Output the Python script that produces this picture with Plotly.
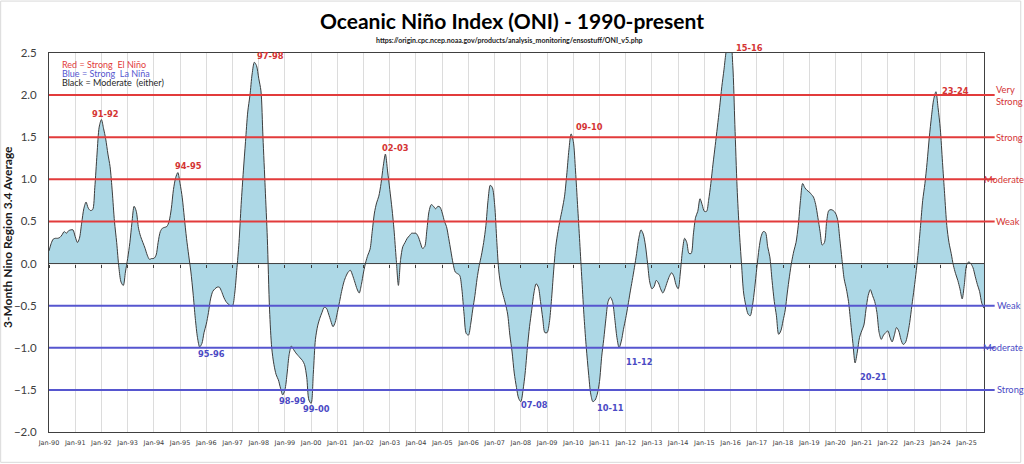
import pandas as pd
import plotly.graph_objects as go

# ONI, one value per month (3-month running mean)
oni_1990s = [
    0.15, 0.24, 0.29, 0.30, 0.30, 0.31, 0.34, 0.38, 0.36, 0.39, 0.40, 0.40,
    0.32, 0.25, 0.30, 0.48, 0.65, 0.73, 0.66, 0.63, 0.64, 0.90, 1.30, 1.62,
    1.71, 1.60, 1.48, 1.30, 1.15, 0.85, 0.50, 0.25, -0.05, -0.22, -0.26, -0.10,
    0.06, 0.25, 0.48, 0.68, 0.62, 0.42, 0.32, 0.25, 0.18, 0.10, 0.05, 0.06,
    0.06, 0.10, 0.25, 0.38, 0.42, 0.43, 0.44, 0.50, 0.65, 0.88, 1.02, 1.08,
    0.95, 0.78, 0.55, 0.30, 0.10, -0.10, -0.35, -0.65, -0.88, -0.99, -0.95, -0.82,
    -0.72, -0.58, -0.42, -0.33, -0.30, -0.28, -0.28, -0.33, -0.40, -0.45, -0.48, -0.50,
    -0.50, -0.35, -0.08, 0.25, 0.70, 1.10, 1.45, 1.80, 2.00, 2.25, 2.39, 2.35,
    2.20, 2.05, 1.50, 0.90, 0.30, -0.55, -1.00, -1.20, -1.32, -1.38, -1.48, -1.56,
    -1.50, -1.30, -1.08, -0.98, -1.02, -1.06, -1.09, -1.12, -1.15, -1.20, -1.35, -1.62,
]
oni_2000s = [
    -1.66, -1.30, -0.90, -0.74, -0.65, -0.58, -0.52, -0.53, -0.60, -0.68, -0.75, -0.70,
    -0.58, -0.45, -0.33, -0.22, -0.15, -0.10, -0.08, -0.14, -0.22, -0.30, -0.35, -0.25,
    -0.10, 0.02, 0.10, 0.17, 0.38, 0.60, 0.72, 0.80, 0.95, 1.15, 1.30, 1.10,
    0.88, 0.65, 0.40, 0.05, -0.26, 0.05, 0.20, 0.25, 0.30, 0.33, 0.36, 0.36,
    0.36, 0.32, 0.25, 0.18, 0.20, 0.40, 0.62, 0.70, 0.68, 0.65, 0.68, 0.67,
    0.60, 0.50, 0.44, 0.30, 0.15, 0.00, -0.10, -0.12, -0.14, -0.30, -0.60, -0.83,
    -0.85, -0.72, -0.55, -0.38, -0.18, -0.02, 0.10, 0.25, 0.45, 0.75, 0.93, 0.90,
    0.70, 0.25, -0.10, -0.28, -0.38, -0.48, -0.60, -0.85, -1.05, -1.30, -1.47, -1.60,
    -1.64, -1.50, -1.30, -1.00, -0.75, -0.55, -0.35, -0.24, -0.28, -0.45, -0.65, -0.82,
    -0.82, -0.70, -0.45, -0.10, 0.20, 0.38, 0.52, 0.65, 0.80, 1.05, 1.35, 1.54,
]
oni_2010s = [
    1.45, 1.10, 0.70, 0.25, -0.20, -0.65, -1.00, -1.30, -1.55, -1.64, -1.62, -1.55,
    -1.40, -1.10, -0.90, -0.65, -0.45, -0.40, -0.45, -0.65, -0.88, -1.00, -0.92, -0.78,
    -0.65, -0.50, -0.35, -0.20, -0.05, 0.12, 0.30, 0.40, 0.35, 0.22, 0.00, -0.22,
    -0.30, -0.27, -0.20, -0.23, -0.30, -0.35, -0.30, -0.22, -0.15, -0.11, -0.15, -0.25,
    -0.30, -0.10, 0.15, 0.30, 0.25, 0.12, 0.12, 0.35, 0.55, 0.62, 0.77, 0.70,
    0.62, 0.62, 0.75, 0.95, 1.18, 1.40, 1.62, 1.85, 2.10, 2.30, 2.52, 2.62,
    2.62, 2.35, 1.65, 0.90, 0.40, 0.00, -0.35, -0.50, -0.60, -0.62, -0.50, -0.30,
    -0.05, 0.18, 0.32, 0.38, 0.37, 0.20, 0.08, -0.20, -0.45, -0.62, -0.84, -0.80,
    -0.68, -0.55, -0.35, -0.15, 0.02, 0.15, 0.25, 0.45, 0.75, 0.95, 0.90, 0.87,
    0.85, 0.82, 0.79, 0.70, 0.55, 0.38, 0.22, 0.25, 0.50, 0.63, 0.64, 0.63,
]
oni_2020s = [
    0.60, 0.52, 0.30, 0.05, -0.18, -0.30, -0.45, -0.70, -0.95, -1.18, -1.05, -0.88,
    -0.80, -0.73, -0.55, -0.38, -0.31, -0.38, -0.45, -0.58, -0.82, -0.90, -0.85, -0.82,
    -0.80, -0.88, -0.93, -0.85, -0.76, -0.80, -0.90, -0.96, -0.94, -0.85, -0.70, -0.50,
    -0.30, -0.08, 0.15, 0.45, 0.75, 0.95, 1.20, 1.50, 1.75, 1.95, 2.04, 1.85,
    1.60, 1.20, 0.83, 0.45, 0.25, 0.12, -0.02, -0.12, -0.20, -0.30, -0.42, -0.25,
    -0.02, 0.02, 0.00, -0.05, -0.15, -0.25, -0.33, -0.47, -0.53,
]

# strength thresholds
nino_levels = [0.5, 1.0, 1.5, 2.0]
nino_names = ["Weak", "Moderate", "Strong", "Very<br>Strong"]
nina_levels = [-0.5, -1.0, -1.5]
nina_names = ["Weak", "Moderate", "Strong"]

# event labels (strong El Nino / strong La Nina)
nino_events = ["91-92", "94-95", "97-98", "02-03", "09-10", "15-16", "23-24"]
nino_event_x = ["1992-02-26", "1995-04-28", "1998-06-14", "2003-03-24",
                "2010-08-09", "2016-09-18", "2024-07-24"]
nino_event_y = [1.78, 1.16, 2.46, 1.37, 1.62, 2.56, 2.05]
nina_events = ["95-96", "98-99", "99-00", "07-08", "10-11", "11-12", "20-21"]
nina_event_x = ["1996-03-17", "1999-04-13", "2000-03-20", "2008-07-03",
                "2011-06-04", "2012-07-15", "2021-06-08"]
nina_event_y = [-1.07, -1.63, -1.73, -1.68, -1.72, -1.17, -1.35]

Y_MIN, Y_MAX = -2.0, 2.5
RED = "#e23b3b"
BLUE = "#5656cf"
TEXT_RED = "#d43434"
TEXT_BLUE = "#4a4ac4"

oni = oni_1990s + oni_2000s + oni_2010s + oni_2020s
months = pd.date_range("1990-01-01", periods=len(oni), freq="MS")


def to_paper(v):
    # labels can sit above the axis range (15-16), so place them in paper units
    return (v - Y_MIN) / (Y_MAX - Y_MIN)


fig = go.Figure()
fig.add_trace(go.Scatter(
    x=months, y=oni, mode="lines", fill="tozeroy", fillcolor="#add8e6",
    line=dict(color="#3c3c3c", width=1, shape="spline", smoothing=0.8),
    showlegend=False, hoverinfo="skip"))
# dummy trace so the zero-line tick axis gets drawn
fig.add_trace(go.Scatter(x=months[:1], y=[None], xaxis="x2", showlegend=False, hoverinfo="skip"))

shapes = []
for lvl in nino_levels:
    shapes.append(dict(type="line", xref="paper", yref="y", x0=0, x1=1.0114, y0=lvl, y1=lvl,
                       line=dict(color=RED, width=2), layer="above"))
for lvl in nina_levels:
    shapes.append(dict(type="line", xref="paper", yref="y", x0=0, x1=1.0114, y0=lvl, y1=lvl,
                       line=dict(color=BLUE, width=2), layer="above"))
shapes.append(dict(type="line", xref="paper", yref="y", x0=0, x1=1, y0=0, y1=0,
                   line=dict(color="#3c3c3c", width=1), layer="above"))
# outer chart frame
shapes.append(dict(type="rect", xref="paper", yref="paper", x0=-0.0517, x1=1.0393, y0=-0.080, y1=1.137,
                   line=dict(color="#d9d9d9", width=1), layer="below"))

ann = []
for lvl, name in zip(nino_levels, nino_names):
    ann.append(dict(x=0.9986 if name == "Moderate" else 1.0114, xref="paper", y=lvl, yref="y",
                    text=name, showarrow=False, xanchor="left", yanchor="middle", align="left",
                    borderpad=0, font=dict(family="Lato", size=9.3, color=TEXT_RED)))
for lvl, name in zip(nina_levels, nina_names):
    ann.append(dict(x=0.9975 if name == "Moderate" else 1.013, xref="paper", y=lvl, yref="y",
                    text=name, showarrow=False, xanchor="left", yanchor="middle",
                    borderpad=0, font=dict(family="Lato", size=9.3, color=TEXT_BLUE)))
for name, x, y in zip(nino_events, nino_event_x, nino_event_y):
    ann.append(dict(x=x, y=to_paper(y), yref="paper", text=name, showarrow=False,
                    xanchor="center", yanchor="middle",
                    font=dict(family="DejaVu Sans", size=8.3, color=TEXT_RED, weight="bold")))
for name, x, y in zip(nina_events, nina_event_x, nina_event_y):
    ann.append(dict(x=x, y=to_paper(y), yref="paper", text=name, showarrow=False,
                    xanchor="center", yanchor="middle",
                    font=dict(family="DejaVu Sans", size=8.3, color=TEXT_BLUE, weight="bold")))

# key in the top-left corner
key_text = ["Red = Strong  El Niño", "Blue = Strong  La Niña", "Black = Moderate  (either)"]
key_color = [RED, BLUE, "#262626"]
key_y = [0.970, 0.947, 0.923]
for t, c, y in zip(key_text, key_color, key_y):
    ann.append(dict(x=0.0125, xref="paper", y=y, yref="paper", text=t, showarrow=False,
                    xanchor="left", yanchor="middle", borderpad=0,
                    font=dict(family="Lato", size=9, color=c)))

ann.append(dict(x=0.4927, xref="paper", y=1.034, yref="paper", showarrow=False,
                xanchor="center", yanchor="middle",
                text="https://origin.cpc.ncep.noaa.gov/products/analysis_monitoring/ensostuff/ONI_v5.php",
                font=dict(family="Lato", size=7, color="#1a1a1a", weight="bold")))
ann.append(dict(x=-0.0436, xref="paper", y=0.515, yref="paper", showarrow=False, textangle=-90,
                xanchor="center", yanchor="middle",
                text="3-Month Nino Region 3.4 Average",
                font=dict(family="Lato", size=12, color="#1a1a1a", weight="bold")))

fig.update_layout(
    width=1024, height=464,
    margin=dict(l=49, r=40, t=53, b=32),
    paper_bgcolor="white", plot_bgcolor="white",
    title=dict(text="Oceanic Niño Index (ONI) - 1990-present", x=0.5, xref="container",
               y=1 - 22 / 464, yref="container", xanchor="center", yanchor="middle",
               font=dict(family="Lato", size=21, color="black", weight="bold")),
    shapes=shapes, annotations=ann,
)
fig.update_xaxes(
    range=[months[0], months[-1]], tick0="1990-01-01", dtick="M12", tickformat="%b-%y",
    showgrid=True, gridcolor="#dcdcdc", gridwidth=1,
    showline=True, linecolor="#404040", linewidth=1, mirror=True,
    ticks="outside", ticklen=4, tickcolor="rgba(0,0,0,0)",
    tickfont=dict(family="DejaVu Sans", size=6.5, color="#404040"),
)
fig.update_layout(xaxis2=dict(
    overlaying="x", matches="x", anchor="free", position=2 / 4.5, side="bottom",
    tick0="1990-01-01", dtick="M12", ticks="outside", ticklen=3, tickcolor="#3c3c3c",
    showticklabels=False, showgrid=False, showline=False, zeroline=False,
))
fig.update_yaxes(
    range=[Y_MIN, Y_MAX], dtick=0.5, tickformat=".1f", showgrid=False, zeroline=False,
    showline=True, linecolor="#404040", linewidth=1, mirror=True,
    ticks="outside", ticklen=9, tickcolor="rgba(0,0,0,0)",
    tickfont=dict(family="Lato", size=11.5, color="#404040"),
)

# page has a default 8px body margin; drop it so the chart sits at the window origin
fig.write_html("out.html", config={"displayModeBar": False},
               post_script="document.body.style.margin='0px';")
